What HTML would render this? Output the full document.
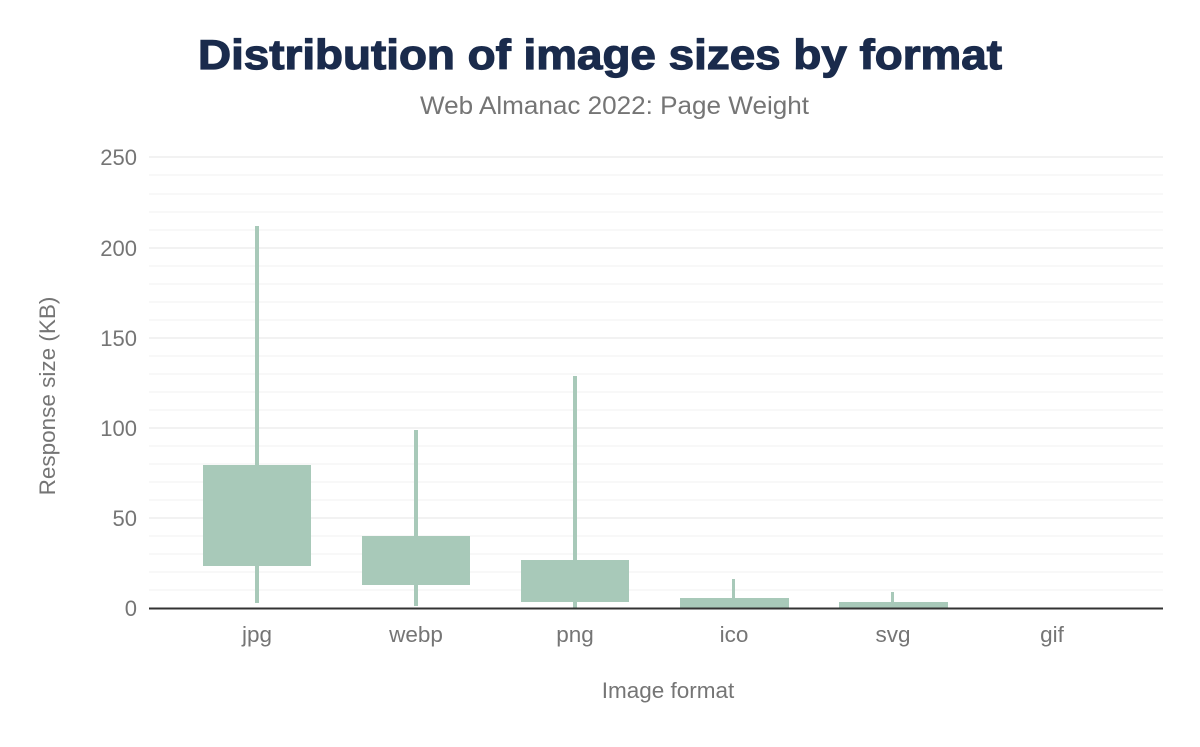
<!DOCTYPE html>
<html><head><style>
body{margin:0;background:#fff;width:1200px;height:742px;overflow:hidden;font-family:"Liberation Sans",sans-serif;}
</style></head><body>
<svg width="1200" height="742" xmlns="http://www.w3.org/2000/svg" font-family="Liberation Sans, sans-serif">
<text x="198" y="69" textLength="804" lengthAdjust="spacingAndGlyphs" font-size="42" font-weight="bold" fill="#1a2b4c" stroke="#1a2b4c" stroke-width="1.2">Distribution of image sizes by format</text>
<text x="420" y="114" textLength="389" lengthAdjust="spacingAndGlyphs" font-size="25" fill="#757575">Web Almanac 2022: Page Weight</text>
<g stroke="#f5f5f5" stroke-width="1.5">
<line x1="149" x2="1163" y1="590" y2="590"/><line x1="149" x2="1163" y1="572" y2="572"/><line x1="149" x2="1163" y1="554" y2="554"/><line x1="149" x2="1163" y1="536" y2="536"/>
<line x1="149" x2="1163" y1="500" y2="500"/><line x1="149" x2="1163" y1="482" y2="482"/><line x1="149" x2="1163" y1="464" y2="464"/><line x1="149" x2="1163" y1="446" y2="446"/>
<line x1="149" x2="1163" y1="410" y2="410"/><line x1="149" x2="1163" y1="392" y2="392"/><line x1="149" x2="1163" y1="374" y2="374"/><line x1="149" x2="1163" y1="356" y2="356"/>
<line x1="149" x2="1163" y1="320" y2="320"/><line x1="149" x2="1163" y1="302" y2="302"/><line x1="149" x2="1163" y1="284" y2="284"/><line x1="149" x2="1163" y1="266" y2="266"/>
<line x1="149" x2="1163" y1="230" y2="230"/><line x1="149" x2="1163" y1="212" y2="212"/><line x1="149" x2="1163" y1="194" y2="194"/><line x1="149" x2="1163" y1="175" y2="175"/>
</g>
<g stroke="#eeeeee" stroke-width="1.5">
<line x1="149" x2="1163" y1="518" y2="518"/><line x1="149" x2="1163" y1="428" y2="428"/><line x1="149" x2="1163" y1="338" y2="338"/><line x1="149" x2="1163" y1="248" y2="248"/><line x1="149" x2="1163" y1="157" y2="157"/>
</g>
<g fill="#a8c9b9">
<rect x="255" y="226" width="4" height="377"/><rect x="203" y="465" width="108" height="101"/>
<rect x="414" y="430" width="4" height="176"/><rect x="362" y="536" width="108" height="49"/>
<rect x="573" y="376" width="4" height="232"/><rect x="521" y="560" width="108" height="42"/>
<rect x="732" y="579" width="3" height="29"/><rect x="680" y="598" width="109" height="10"/>
<rect x="891" y="592" width="3" height="16"/><rect x="839" y="602" width="109" height="6"/>
</g>
<line x1="149" x2="1163" y1="608.5" y2="608.5" stroke="#333" stroke-width="2"/>
<g font-size="22" fill="#757575" text-anchor="end">
<text x="137" y="616">0</text><text x="137" y="526">50</text><text x="137" y="436">100</text><text x="137" y="346">150</text><text x="137" y="256">200</text><text x="137" y="165">250</text>
</g>
<g font-size="22.5" fill="#757575" text-anchor="middle">
<text x="257" y="642">jpg</text><text x="416" y="642">webp</text><text x="575" y="642">png</text><text x="734" y="642">ico</text><text x="893" y="642">svg</text><text x="1052" y="642">gif</text>
<text x="668" y="698">Image format</text>
<text transform="translate(55,396) rotate(-90)">Response size (KB)</text>
</g>
</svg>
</body></html>
